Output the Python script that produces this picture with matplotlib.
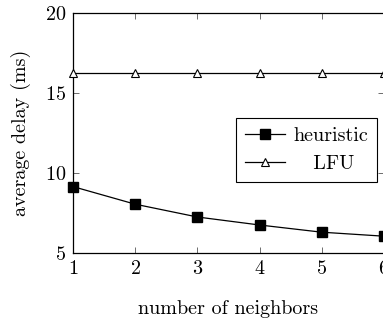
import matplotlib
matplotlib.use('Agg')
import matplotlib.pyplot as plt

# data
neighbors = [1, 2, 3, 4, 5, 6]
heuristic = [9.15, 8.05, 7.25, 6.75, 6.3, 6.05]
lfu = [16.25, 16.25, 16.25, 16.25, 16.25, 16.25]

plt.rcParams['font.family'] = 'cmr10'
plt.rcParams['axes.formatter.use_mathtext'] = True

fig = plt.figure(figsize=(3.83, 3.2), dpi=100)
ax = fig.add_axes([73 / 383, 1 - 253 / 320, 311 / 383, 240 / 320])

ax.plot(neighbors, heuristic, color='black', lw=0.9, marker='s', ms=7.5,
        label='heuristic', clip_on=False, zorder=3)
ax.plot(neighbors, lfu, color='black', lw=0.9, marker='^', ms=5.5,
        mfc='white', mew=0.8, label='   LFU', clip_on=False, zorder=3)

ax.set_xlim(1, 6)
ax.set_ylim(5, 20)
ax.set_xticks(neighbors)
ax.set_yticks([5, 10, 15, 20])
ax.tick_params(direction='in', length=4, width=0.6, color='#555555',
               top=True, right=True, labelsize=14.5, pad=5)
for s in ax.spines.values():
    s.set_linewidth(0.9)

ax.set_xlabel('number of neighbors', fontsize=14.5, labelpad=16)
ax.set_ylabel('average delay (ms)', fontsize=14.5, labelpad=10)

leg = ax.legend(loc='upper left', bbox_to_anchor=(163 / 311, 1 - 105 / 240),
                fontsize=14.5, fancybox=False, edgecolor='black',
                framealpha=1, handlelength=2.0, borderpad=0.45,
                labelspacing=0.5, handletextpad=0.4, borderaxespad=0)
leg.get_frame().set_linewidth(0.8)

fig.savefig('out.png', dpi=100)
